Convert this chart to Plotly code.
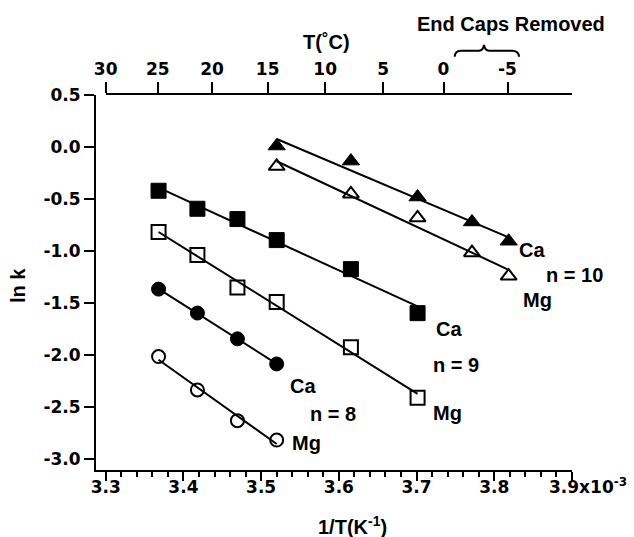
import numpy as np
import plotly.graph_objects as go

# ---------------- data ----------------
x_n10 = [3.52, 3.6155, 3.7013, 3.7713, 3.8185]
ca_n10 = [0.01, -0.135, -0.48, -0.72, -0.905]
mg_n10 = [-0.185, -0.45, -0.68, -1.015, -1.24]

x_n9 = [3.368, 3.418, 3.4695, 3.52, 3.6155, 3.7013]
ca_n9 = [-0.42, -0.593, -0.692, -0.894, -1.173, -1.596]
mg_n9 = [-0.817, -1.038, -1.35, -1.49, -1.923, -2.408]

x_n8 = [3.368, 3.418, 3.4695, 3.52]
ca_n8 = [-1.365, -1.595, -1.843, -2.084]
mg_n8 = [-2.013, -2.334, -2.629, -2.815]

bottom_ticks = [3.3, 3.4, 3.5, 3.6, 3.7, 3.8, 3.9]
bottom_labels = ["3.3", "3.4", "3.5", "3.6", "3.7", "3.8", ""]
top_tick_pos = [3.3, 3.367, 3.4368, 3.5084, 3.5824, 3.657, 3.7347, 3.817]
top_tick_labels = ["30", "25", "20", "15", "10", "5", "0", "-5"]
y_ticks = [0.5, 0.0, -0.5, -1.0, -1.5, -2.0, -2.5, -3.0]
y_labels = ["0.5", "0.0", "-0.5", "-1.0", "-1.5", "-2.0", "-2.5", "-3.0"]

# label annotations (text, x, y) in data units
labels = [
    ("Ca", 3.849, -0.988), ("n = 10", 3.903, -1.228), ("Mg", 3.856, -1.468),
    ("Ca", 3.742, -1.75), ("n = 9", 3.751, -2.093), ("Mg", 3.7395, -2.558),
    ("Ca", 3.5537, -2.295), ("n = 8", 3.592, -2.564), ("Mg", 3.558, -2.840),
]

XR = [3.2875, 3.9]
YR = [-3.103, 0.5]

FONT = "Liberation Sans, Arial, sans-serif"
TFONT = "DejaVu Sans, sans-serif"
W, H = 634, 537
L, R, T, B = 96, 62, 95, 67
PW, PH = W - L - R, H - T - B


def px(x):
    return (x - L) / PW


def py(y):
    return (H - B - y) / PH


fig = go.Figure()

series = [
    (x_n10, ca_n10, "triangle-up", 15, False),
    (x_n10, mg_n10, "triangle-up-open", 14, True),
    (x_n9, ca_n9, "square", 15, False),
    (x_n9, mg_n9, "square-open", 14, True),
    (x_n8, ca_n8, "circle", 14, False),
    (x_n8, mg_n8, "circle-open", 13, True),
]

# regression lines
for xs, ys, *_ in series:
    a, b = np.polyfit(xs, ys, 1)
    xl = np.array([min(xs), max(xs)])
    fig.add_trace(go.Scatter(x=xl, y=a * xl + b, mode="lines",
                             line=dict(color="black", width=2),
                             hoverinfo="skip", showlegend=False))

for xs, ys, sym, size, is_open in series:
    fig.add_trace(go.Scatter(
        x=xs, y=ys, mode="markers",
        marker=dict(symbol=sym, size=size, color="black",
                    line=dict(color="black", width=2 if is_open else 1)),
        showlegend=False))

# dummy trace for top axis
fig.add_trace(go.Scatter(x=[3.3, 3.9], y=[None, None], xaxis="x2", yaxis="y",
                         mode="markers", showlegend=False, hoverinfo="skip"))

tickfont = dict(family=TFONT, size=17, color="black", weight="bold")

fig.update_layout(
    width=W, height=H,
    margin=dict(l=L, r=R, t=T, b=B),
    paper_bgcolor="white", plot_bgcolor="rgba(0,0,0,0)",
    showlegend=False,
    xaxis=dict(range=XR, showgrid=False, zeroline=False,
               showline=True, linecolor="black", linewidth=2,
               ticks="outside", ticklen=9, tickwidth=2, tickcolor="black",
               tickvals=bottom_ticks, ticktext=bottom_labels, tickfont=tickfont,
               ticklabelstandoff=-8,
               minor=dict(dtick=0.02, tick0=3.3, ticks="outside", ticklen=5,
                          tickwidth=2, tickcolor="black", showgrid=False)),
    xaxis2=dict(range=[3.3, 3.9], domain=[px(105.7), 1], anchor="y", side="top",
                showgrid=False, zeroline=False,
                showline=True, linecolor="black", linewidth=2,
                ticks="outside", ticklen=11, tickwidth=2, tickcolor="black",
                tickvals=top_tick_pos, ticktext=top_tick_labels, tickfont=tickfont),
    yaxis=dict(range=YR, showgrid=False, zeroline=False,
               showline=True, linecolor="black", linewidth=2,
               ticks="outside", ticklen=10, tickwidth=2, tickcolor="black",
               tickvals=y_ticks, ticktext=y_labels, tickfont=tickfont),
)

afont = dict(family=FONT, size=20, color="black", weight="bold")
for text, x, y in labels:
    fig.add_annotation(x=(x - XR[0]) / (XR[1] - XR[0]), y=(y - YR[0]) / (YR[1] - YR[0]),
                       xref="paper", yref="paper", text=text, showarrow=False,
                       font=afont, xanchor="center", yanchor="middle")

fig.add_annotation(x=px(547), y=py(486), xref="paper", yref="paper",
                   text="3.9x10<sup>-3</sup>", showarrow=False, font=tickfont,
                   xanchor="left", yanchor="middle")
fig.add_annotation(x=px(18), y=py(286), xref="paper", yref="paper", text="ln k",
                   textangle=-90, showarrow=False, font=afont,
                   xanchor="center", yanchor="middle")
fig.add_annotation(x=px(352), y=py(525), xref="paper", yref="paper",
                   text="1/T(K<sup>-1</sup>)", showarrow=False, font=afont,
                   xanchor="center", yanchor="middle")
fig.add_annotation(x=px(326), y=py(42), xref="paper", yref="paper",
                   text="T(˚C)", showarrow=False, font=afont,
                   xanchor="center", yanchor="middle")
fig.add_annotation(x=px(511), y=py(24), xref="paper", yref="paper",
                   text="End Caps Removed", showarrow=False, font=afont,
                   xanchor="center", yanchor="middle")

# curly brace over the "end caps removed" temperatures
pts = [(454.7, 56.7), (455, 50.7), (461, 50.7), (479, 50.7), (483, 50.7), (484, 45),
       (485, 50.7), (489, 50.7), (512, 50.7), (518.7, 50.7), (519, 56.7)]
P = [f"{px(a):.5f},{py(b):.5f}" for a, b in pts]
path = (f"M {P[0]} Q {P[1]} {P[2]} L {P[3]} Q {P[4]} {P[5]} "
        f"Q {P[6]} {P[7]} L {P[8]} Q {P[9]} {P[10]}")
fig.add_shape(type="path", path=path, xref="paper", yref="paper",
              line=dict(color="black", width=2))

fig.write_html("out.html")
